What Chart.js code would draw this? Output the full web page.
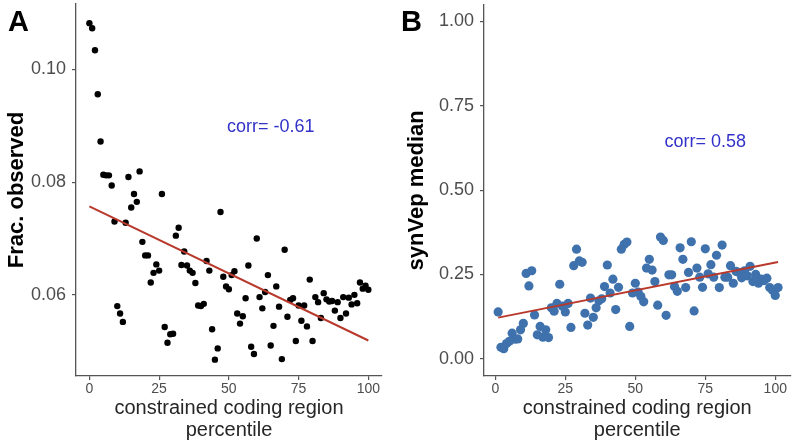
<!DOCTYPE html>
<html>
<head>
<meta charset="utf-8">
<script src="https://cdn.jsdelivr.net/npm/chart.js@4/dist/chart.umd.min.js"></script>
<style>
  html, body { margin: 0; padding: 0; background: #fff; }
  #wrap { position: relative; width: 795px; height: 441px; }
  canvas { position: absolute; top: 0; }
</style>
</head>
<body>
<div id="wrap">
  <canvas id="chartA" width="400" height="441" style="left:0"></canvas>
  <canvas id="chartB" width="395" height="441" style="left:400px"></canvas>
</div>
<script>
// ===== DATA =====

// panel A: percentile vs fraction observed
const percentA = [
  0, 1, 2, 3, 4, 5, 6, 7, 8, 9, 10, 11, 12, 13, 14, 15, 16, 17, 18, 19,
  20, 21, 22, 23, 24, 25, 26, 27, 28, 29, 30, 31, 32, 33, 34, 35, 36, 37, 38, 39,
  40, 41, 42, 43, 44, 45, 46, 47, 48, 49, 50, 51, 52, 53, 54, 55, 56, 57, 58, 59,
  60, 61, 62, 63, 64, 65, 66, 67, 68, 69, 70, 71, 72, 73, 74, 75, 76, 77, 78, 79,
  80, 81, 82, 83, 84, 85, 86, 87, 88, 89, 90, 91, 92, 93, 94, 95, 96, 97, 98, 99, 100
];
const fracObserved = [
  0.1082, 0.1073, 0.1034, 0.0956, 0.0872, 0.0813, 0.0812, 0.0812, 0.0794, 0.0730,
  0.0580, 0.0567, 0.0552, 0.0728, 0.0809, 0.0755, 0.0779, 0.0765, 0.0819, 0.0694,
  0.0670, 0.0670, 0.0622, 0.0639, 0.0654, 0.0643, 0.0779, 0.0543, 0.0515, 0.0530,
  0.0531, 0.0705, 0.0719, 0.0653, 0.0677, 0.0652, 0.0643, 0.0639, 0.0621, 0.0581,
  0.0580, 0.0584, 0.0660, 0.0643, 0.0539, 0.0485, 0.0505, 0.0747, 0.0632, 0.0615,
  0.0610, 0.0635, 0.0642, 0.0567, 0.0549, 0.0562, 0.0594, 0.0652, 0.0508, 0.0495,
  0.0700, 0.0596, 0.0576, 0.0605, 0.0635, 0.0510, 0.0545, 0.0615, 0.0579, 0.0486,
  0.0680, 0.0561, 0.0591, 0.0594, 0.0518, 0.0581, 0.0554, 0.0581, 0.0544, 0.0627,
  0.0518, 0.0596, 0.0587, 0.0559, 0.0603, 0.0592, 0.0588, 0.0589, 0.0572, 0.0587,
  0.0559, 0.0596, 0.0567, 0.0595, 0.0583, 0.0600, 0.0585, 0.0622, 0.0611, 0.0616,
  0.0609
];
const fitXA = [0, 100];
const fitYA = [0.0757, 0.0519];
const yTicksA = [0.06, 0.08, 0.10];

// panel B: percentile vs synVep median
const percentB = [
  1, 2, 3, 4, 5, 6, 7, 8, 9, 10, 11, 12, 13, 14, 15, 16, 17, 18, 19, 20,
  21, 22, 23, 24, 25, 26, 27, 28, 29, 30, 31, 32, 33, 34, 35, 36, 37, 38, 39, 40,
  41, 42, 43, 44, 45, 46, 47, 48, 49, 50, 51, 52, 53, 54, 55, 56, 57, 58, 59, 60,
  61, 62, 63, 64, 65, 66, 67, 68, 69, 70, 71, 72, 73, 74, 75, 76, 77, 78, 79, 80,
  81, 82, 83, 84, 85, 86, 87, 88, 89, 90, 91, 92, 93, 94, 95, 96, 97, 98, 99, 100, 101
];
const synVepMedian = [
  0.139, 0.034, 0.030, 0.045, 0.052, 0.076, 0.058, 0.059, 0.086, 0.105,
  0.253, 0.216, 0.261, 0.130, 0.071, 0.096, 0.064, 0.086, 0.063, 0.151,
  0.141, 0.164, 0.221, 0.156, 0.139, 0.164, 0.093, 0.276, 0.325, 0.290,
  0.286, 0.135, 0.100, 0.180, 0.123, 0.151, 0.172, 0.178, 0.214, 0.278,
  0.195, 0.236, 0.146, 0.212, 0.325, 0.339, 0.346, 0.096, 0.195, 0.224,
  0.198, 0.185, 0.169, 0.269, 0.295, 0.263, 0.229, 0.159, 0.361, 0.351,
  0.129, 0.249, 0.249, 0.214, 0.200, 0.329, 0.295, 0.211, 0.256, 0.347,
  0.142, 0.269, 0.242, 0.212, 0.326, 0.252, 0.279, 0.242, 0.307, 0.211,
  0.337, 0.242, 0.242, 0.276, 0.224, 0.259, 0.256, 0.240, 0.261, 0.246,
  0.274, 0.229, 0.250, 0.224, 0.236, 0.232, 0.239, 0.211, 0.203, 0.188,
  0.211
];
const fitXB = [1, 101];
const fitYB = [0.122, 0.287];
const yTicksB = [0.00, 0.25, 0.50, 0.75, 1.00];

const xTicks = [0, 25, 50, 75, 100];
const xTitle = ['constrained coding region', 'percentile'];

// ===== STYLE =====
Chart.defaults.font.family = "'Liberation Sans', Arial, sans-serif";
const AXIS_COLOR = '#555555';
const TICK_COLOR = '#4d4d4d';
const FIT_COLOR = '#b8392c';
const CORR_COLOR = '#3232c8';

const toXY = (xs, ys) => xs.map((x, i) => ({ x, y: ys[i] }));

// panel letter + corr annotation
const annotate = {
  id: 'annotate',
  afterDraw(chart, args, opts) {
    const { ctx, scales } = chart;
    ctx.save();
    ctx.fillStyle = '#000';
    ctx.font = "bold 29px 'Liberation Sans', Arial, sans-serif";
    ctx.textAlign = 'left';
    ctx.textBaseline = 'middle';
    ctx.fillText(opts.letter, opts.letterX, 23);

    ctx.fillStyle = CORR_COLOR;
    ctx.font = "18px 'Liberation Sans', Arial, sans-serif";
    ctx.textAlign = 'center';
    ctx.fillText(opts.corr, scales.x.getPixelForValue(opts.corrX), scales.y.getPixelForValue(opts.corrY));
    ctx.restore();
  }
};

// no extra room for edge tick labels, the plot box is set by hand
function noPad(s) {
  s.paddingTop = 0; s.paddingBottom = 0;
  s.paddingLeft = 0; s.paddingRight = 0;
}

function panel(canvasId, cfg) {
  const ctx = document.getElementById(canvasId);
  return new Chart(ctx, {
    type: 'scatter',
    data: {
      datasets: [
        {
          type: 'line',
          data: toXY(cfg.fitX, cfg.fitY),
          borderColor: FIT_COLOR,
          borderWidth: 2,
          pointRadius: 0,
          fill: false,
        },
        {
          data: toXY(cfg.xs, cfg.ys),
          backgroundColor: cfg.pointColor,
          borderWidth: 0,
          pointRadius: cfg.pointRadius,
        }
      ]
    },
    options: {
      responsive: false,
      animation: false,
      events: [],
      layout: { padding: { left: 0, right: cfg.padRight, top: 1, bottom: 0 } },
      plugins: {
        legend: { display: false },
        tooltip: { enabled: false },
        annotate: cfg.annot
      },
      elements: { point: { hitRadius: 0 } },
      clip: false,
      scales: {
        x: {
          type: 'linear',
          min: cfg.xMin, max: cfg.xMax,
          afterBuildTicks(s) { s.ticks = xTicks.map(v => ({ value: v })); },
          afterFit(s) { s.height = 65; noPad(s); },
          border: { display: true, color: AXIS_COLOR, width: 1.3 },
          grid: { drawOnChartArea: false, drawTicks: true, tickLength: 4, color: AXIS_COLOR, lineWidth: 1.2 },
          ticks: { color: TICK_COLOR, font: { size: 14 }, padding: 1, maxRotation: 0 },
          title: {
            display: true, text: xTitle, color: '#262626',
            font: { size: 20, lineHeight: 1.1 }, padding: { top: 0, bottom: 0 }
          }
        },
        y: {
          type: 'linear',
          min: cfg.yMin, max: cfg.yMax,
          afterBuildTicks(s) { s.ticks = cfg.yTicks.map(v => ({ value: v })); },
          afterFit(s) { s.width = cfg.yWidth; noPad(s); },
          border: { display: true, color: AXIS_COLOR, width: 1.3 },
          grid: { drawOnChartArea: false, drawTicks: true, tickLength: 4, color: AXIS_COLOR, lineWidth: 1.2 },
          ticks: {
            color: TICK_COLOR, font: { size: 18 }, padding: 6,
            callback: v => v.toFixed(2)
          },
          title: {
            display: true, text: cfg.yTitle, color: '#000',
            font: { size: 22, weight: 'bold', lineHeight: 1.2 }, padding: { top: 4, bottom: 0 }
          }
        }
      }
    },
    plugins: [annotate]
  });
}

panel('chartA', {
  xs: percentA, ys: fracObserved, fitX: fitXA, fitY: fitYA,
  pointColor: '#000000', pointRadius: 3.2,
  xMin: -4.8, xMax: 104.9, yMin: 0.0456, yMax: 0.1116, yTicks: yTicksA,
  yWidth: 76, padRight: 18, yTitle: 'Frac. observed',
  annot: { letter: 'A', letterX: 8, corr: 'corr= -0.61', corrX: 65, corrY: 0.0897 }
});

panel('chartB', {
  xs: percentB, ys: synVepMedian, fitX: fitXB, fitY: fitYB,
  pointColor: '#3f72ad', pointRadius: 4.6,
  xMin: -4.05, xMax: 105.4, yMin: -0.051, yMax: 1.05, yTicks: yTicksB,
  yWidth: 84, padRight: 4, yTitle: 'synVep median',
  annot: { letter: 'B', letterX: 1, corr: 'corr= 0.58', corrX: 75, corrY: 0.643 }
});
</script>
</body>
</html>
